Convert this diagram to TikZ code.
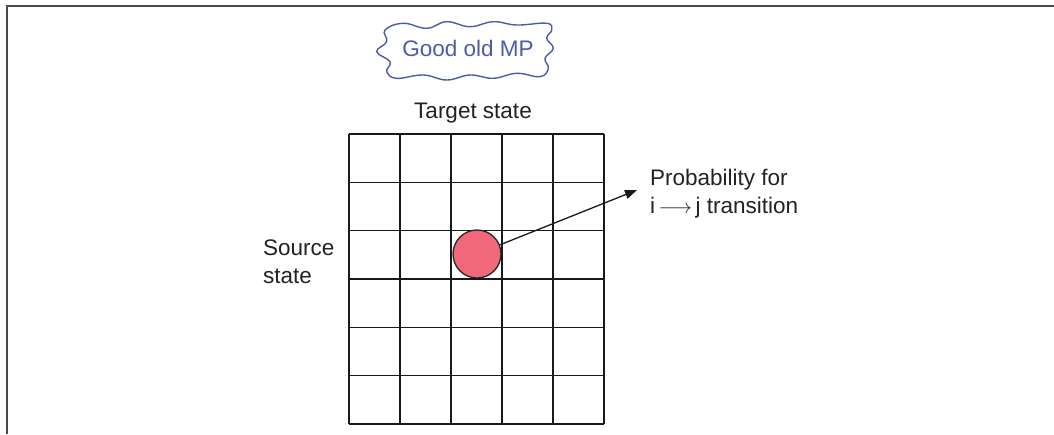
\documentclass[tikz,border=0pt]{standalone}
\usepackage{fontspec}
\setmainfont{Liberation Sans}
\usetikzlibrary{arrows.meta}
\definecolor{cloudblue}{HTML}{4B5BA8}
\definecolor{dotred}{HTML}{F0687A}
\definecolor{txt}{HTML}{222222}
\definecolor{framegray}{HTML}{4A4A4A}
\tikzset{
  lbl/.style={inner sep=0pt, text=txt, font=\fontsize{22.5}{28}\selectfont, align=left},
  gridline/.style={line width=1.6pt, draw=black!90},
  dot/.style={circle, draw=black!85, line width=1.3pt, fill=dotred, minimum size=48pt, inner sep=0pt},
  pointer/.style={line width=1.3pt, draw=black!90, -{Triangle[length=12pt,width=9pt]}},
  framestyle/.style={line width=2pt, draw=framegray},
}
\begin{document}
\begin{tikzpicture}[x=1pt,y=-1pt]
\useasboundingbox (0,0) rectangle (1054,434);
% frame (top and left edges)
\draw[framestyle] (6.5,434) -- (6.5,5.5) -- (1054,5.5);
% cloud
\draw[cloudblue, line width=1.4pt] plot[smooth cycle, tension=0.7] coordinates {
 (385,30) (403.3,23.3) (426.7,28.3) (446.7,21.7) (470,26.7) (493.3,21.7)
 (516.7,25) (546.7,23.3) (551.7,30) (546.7,38.3) (553.3,48.3) (545,58.3)
 (548.3,68.3) (540,76.7) (516.7,73.3) (493.3,78.3) (470,75) (446.7,80)
 (423.3,75) (396.7,78.3) (386.7,71.7) (390,61.7) (376.7,51.7) (386.7,41.7)};
\node[lbl, text=cloudblue, anchor=base] (mp) at (468,56.7) {Good old MP};
% grid
\foreach \i in {0,...,5} {
  \draw[gridline] ({349+51*\i},134) -- ({349+51*\i},424);
}
\foreach \j in {0,...,6} {
  \draw[gridline] (349,{134+48.33*\j}) -- (604,{134+48.33*\j});
}
\node[lbl, anchor=base] (target) at (473,118) {Target state};
\node[lbl, anchor=base west] (source) at (263,283) {Source\\state};
\node[dot] (c) at (477,254) {};
\node[lbl, anchor=base west] (prob) at (650,213) {Probability for\\i$\,\longrightarrow\,$j transition};
\coordinate (tip) at (637,190);
\draw[pointer] (c) -- (tip);
\end{tikzpicture}
\end{document}
